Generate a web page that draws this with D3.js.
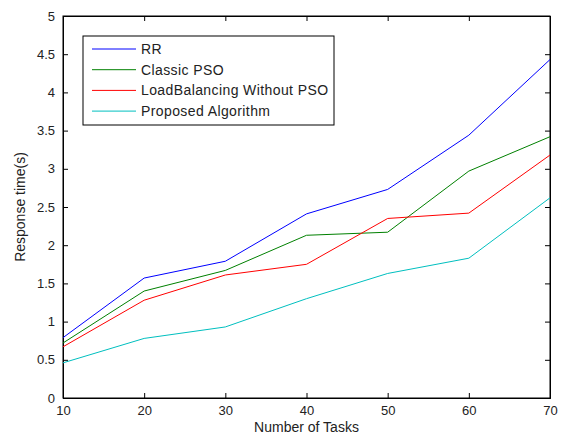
<!DOCTYPE html>
<html>
<head>
<meta charset="UTF-8" />
<script src="https://cdn.jsdelivr.net/npm/d3@7"></script>
<style>
  body { margin: 0; background: white; }
  svg text { font-family: "Liberation Sans", Arial, sans-serif; fill: #222; }
</style>
</head>
<body>
<div id="chart"></div>
<script>
const tasks = [10, 20, 30, 40, 50, 60, 70];
const rr = [0.79, 1.57, 1.79, 2.41, 2.73, 3.44, 4.43];
const classicPso = [0.72, 1.40, 1.67, 2.13, 2.17, 2.97, 3.42];
const lbWithoutPso = [0.67, 1.28, 1.61, 1.75, 2.35, 2.42, 3.18];
const proposed = [0.46, 0.78, 0.93, 1.30, 1.63, 1.83, 2.62];
const seriesNames = ["RR", "Classic PSO", "LoadBalancing Without PSO", "Proposed Algorithm"];
const seriesColors = ["#0000ff", "#008000", "#ff0000", "#00bfbf"];
const yTicks = [0, 0.5, 1, 1.5, 2, 2.5, 3, 3.5, 4, 4.5, 5];

const w = 561, h = 436;
const margin = {left: 63, right: 11, top: 16, bottom: 38};
const series = [rr, classicPso, lbWithoutPso, proposed];

const svg = d3.select("#chart").append("svg").attr("width", w).attr("height", h);

const x = d3.scaleLinear().domain([10, 70]).range([margin.left, w - margin.right]);
const y = d3.scaleLinear().domain([0, 5]).range([h - margin.bottom, margin.top]);

// box
svg.append("rect")
  .attr("x", x(10)).attr("y", y(5))
  .attr("width", x(70) - x(10)).attr("height", y(0) - y(5))
  .attr("fill", "white").attr("stroke", "black").attr("stroke-width", 1);

const xAxis = svg.append("g").attr("transform", "translate(0," + y(0) + ")")
  .call(d3.axisBottom(x).tickValues(tasks).tickSize(-5).tickPadding(8).tickFormat(d3.format("d")));
const xAxisTop = svg.append("g").attr("transform", "translate(0," + y(5) + ")")
  .call(d3.axisTop(x).tickValues(tasks).tickSize(-5).tickFormat(""));
const yAxis = svg.append("g").attr("transform", "translate(" + x(10) + ",0)")
  .call(d3.axisLeft(y).tickValues(yTicks).tickSize(-5).tickPadding(8).tickFormat(d3.format("")));
const yAxisRight = svg.append("g").attr("transform", "translate(" + x(70) + ",0)")
  .call(d3.axisRight(y).tickValues(yTicks).tickSize(-5).tickFormat(""));

[xAxis, xAxisTop, yAxis, yAxisRight].forEach(a => {
  a.select(".domain").attr("stroke", "black");
  a.selectAll(".tick line").attr("stroke", "black");
  a.selectAll("text").style("font-size", "13px").attr("fill", "#222");
});

// lines
const line = d3.line().x((d, i) => x(tasks[i])).y(d => y(d));
series.forEach((s, i) => {
  svg.append("path").datum(s)
    .attr("fill", "none").attr("stroke", seriesColors[i]).attr("stroke-width", 1)
    .attr("d", line);
});

// axis labels
svg.append("text").attr("x", (x(10) + x(70)) / 2).attr("y", 432)
  .attr("text-anchor", "middle").style("font-size", "14px").text("Number of Tasks");
svg.append("text").attr("transform", "translate(25," + (y(2.5)) + ") rotate(-90)")
  .attr("text-anchor", "middle").style("font-size", "14px").text("Response time(s)");

// legend
const lg = svg.append("g");
lg.append("rect").attr("x", 83).attr("y", 36).attr("width", 251).attr("height", 89)
  .attr("fill", "white").attr("stroke", "black");
seriesNames.forEach((n, i) => {
  const ly = 49 + i * 20.7;
  lg.append("line").attr("x1", 92).attr("x2", 136).attr("y1", ly).attr("y2", ly)
    .attr("stroke", seriesColors[i]).attr("stroke-width", 1);
  lg.append("text").attr("x", 141).attr("y", ly + 5).style("font-size", "14px")
    .style("letter-spacing", "0.4px").text(n);
});
</script>
</body>
</html>
